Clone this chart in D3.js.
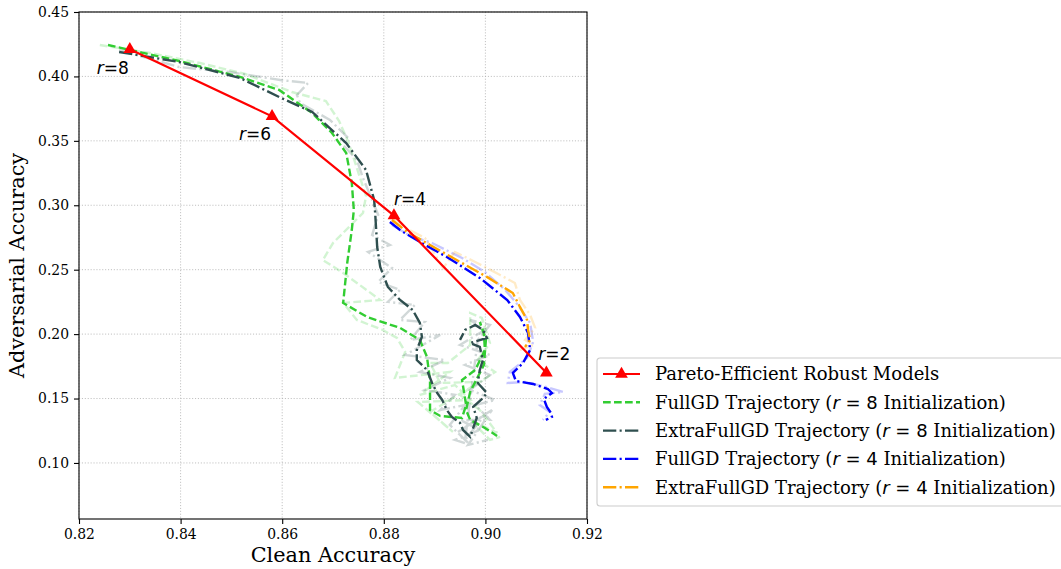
<!DOCTYPE html>
<html>
<head>
<meta charset="utf-8">
<script src="https://cdn.jsdelivr.net/npm/d3@7"></script>
<style>
  body { margin: 0; background: #fff; }
  svg { display: block; }
</style>
</head>
<body>
<svg id="chart" width="1061" height="569"></svg>
<script>
// pareto-efficient robust models
var paretoX = [0.830, 0.858, 0.882, 0.912];
var paretoY = [0.421, 0.369, 0.292, 0.170];
var paretoLabels = ['8', '6', '4', '2'];

// smoothed trajectories
var fullGD8 = [
  [0.8257,0.4244],[0.8397,0.4120],[0.8517,0.3996],[0.8594,0.3895],[0.8659,0.3716],
  [0.8698,0.3561],[0.8726,0.3406],[0.8737,0.3173],[0.8741,0.2963],[0.8737,0.2808],
  [0.8728,0.2552],[0.8720,0.2242],[0.8767,0.2133],[0.8832,0.2048],[0.8871,0.1955],
  [0.8885,0.1823],[0.8891,0.1644],[0.8891,0.1411],[0.8911,0.1365],[0.8954,0.1349],
  [0.8962,0.1450],[0.8954,0.1644],[0.8980,0.1722],[0.8999,0.1877],[0.8997,0.2009],
  [0.8989,0.2094],[0.9001,0.1955],[0.8997,0.1761],[0.8970,0.1551],[0.8962,0.1411],
  [0.8970,0.1334],[0.8999,0.1272],[0.9023,0.1210]
];
var extraGD8 = [
  [0.8279,0.4190],[0.8397,0.4112],[0.8517,0.3988],[0.8594,0.3840],[0.8659,0.3724],
  [0.8726,0.3483],[0.8765,0.3274],[0.8781,0.3041],[0.8783,0.2940],[0.8787,0.2676],
  [0.8793,0.2521],[0.8808,0.2366],[0.8832,0.2265],[0.8857,0.2187],[0.8871,0.2087],
  [0.8875,0.1978],[0.8865,0.1877],[0.8865,0.1799],[0.8885,0.1722],[0.8895,0.1621],
  [0.8905,0.1543],[0.8915,0.1489],[0.8924,0.1411],[0.8934,0.1357],[0.8950,0.1311],
  [0.8956,0.1256],[0.8970,0.1202],[0.8976,0.1272],[0.8983,0.1349],[0.8976,0.1435],
  [0.8995,0.1504],[0.9003,0.1543],[0.8985,0.1621],[0.8989,0.1722],[0.8995,0.1799],
  [0.8989,0.1900],[0.8970,0.1931],[0.9003,0.1970],[0.8995,0.2032],[0.8980,0.2071],
  [0.8960,0.2032],[0.8950,0.1955]
];
var fullGD4 = [
  [0.8812,0.2870],[0.8832,0.2808],[0.8871,0.2715],[0.8924,0.2599],[0.8989,0.2436],
  [0.9043,0.2265],[0.9068,0.2133],[0.9084,0.2009],[0.9088,0.1877],[0.9074,0.1776],
  [0.9054,0.1699],[0.9060,0.1636],[0.9094,0.1613],[0.9123,0.1574],[0.9131,0.1543],
  [0.9115,0.1497],[0.9121,0.1435],[0.9129,0.1388],[0.9131,0.1357],[0.9119,0.1334]
];
var extraGD4 = [
  [0.8816,0.2886],[0.8846,0.2793],[0.8891,0.2692],[0.8950,0.2560],[0.9003,0.2444],
  [0.9054,0.2319],[0.9068,0.2211],[0.9082,0.2110],[0.9084,0.2032],[0.9088,0.1955],
  [0.9078,0.1900]
];

// raw (unsmoothed) trajectories, drawn faint
var fullGD8Raw = [
  [0.8241,0.4244],[0.8340,0.4182],[0.8438,0.4104],[0.8527,0.4019],[0.8619,0.3879],
  [0.8686,0.3809],[0.8712,0.3654],[0.8731,0.3483],[0.8745,0.3313],[0.8765,0.3072],
  [0.8759,0.2940],[0.8700,0.2707],[0.8680,0.2575],[0.8720,0.2475],[0.8793,0.2265],
  [0.8720,0.2242],[0.8747,0.2110],[0.8798,0.2032],[0.8826,0.1970],[0.8842,0.1862],
  [0.8822,0.1660],[0.8930,0.1706],[0.8871,0.1528],[0.8940,0.1605],[0.8970,0.1489],
  [0.8867,0.1473],[0.8936,0.1241],[0.8891,0.1396],[0.8989,0.1629],[0.8911,0.1621],
  [0.8891,0.1776],[0.8926,0.1776],[0.8970,0.1916],[0.8970,0.2164],[0.8993,0.2125],
  [0.9009,0.1931],[0.8985,0.1799],[0.9019,0.1706],[0.8950,0.1528],[0.8989,0.1411],
  [0.9023,0.1233],[0.8970,0.1334],[0.9009,0.1179],[0.9029,0.1202]
];
var extraGD8Raw = [
  [0.8279,0.4205],[0.8397,0.4073],[0.8497,0.4034],[0.8596,0.3972],[0.8651,0.3949],
  [0.8629,0.3856],[0.8635,0.3794],[0.8694,0.3662],[0.8728,0.3530],[0.8720,0.3468],
  [0.8747,0.3352],[0.8759,0.3212],[0.8777,0.3041],[0.8789,0.2925],[0.8777,0.2769],
  [0.8812,0.2692],[0.8769,0.2638],[0.8816,0.2513],[0.8789,0.2405],[0.8832,0.2343],
  [0.8808,0.2250],[0.8861,0.2226],[0.8832,0.2110],[0.8881,0.2094],[0.8852,0.1955],
  [0.8911,0.1993],[0.8842,0.1838],[0.8920,0.1799],[0.8871,0.1706],[0.8930,0.1660],
  [0.8881,0.1567],[0.8940,0.1528],[0.8911,0.1411],[0.8960,0.1450],[0.8930,0.1295],
  [0.8970,0.1140],[0.8940,0.1179],[0.8989,0.1256],[0.8950,0.1334],[0.9009,0.1334],
  [0.8980,0.1450],[0.9019,0.1489],[0.8970,0.1567],[0.9009,0.1683],[0.8960,0.1761],
  [0.9009,0.1838],[0.8950,0.1916],[0.8999,0.2032],[0.8970,0.2110],[0.9009,0.2071],
  [0.8985,0.1955],[0.8960,0.1179],[0.8999,0.1373],[0.8946,0.1241],[0.9013,0.1411],
  [0.8966,0.1140],[0.9005,0.1179]
];
var fullGD4Raw = [
  [0.8816,0.2847],[0.8852,0.2762],[0.8895,0.2707],[0.8954,0.2591],[0.8999,0.2482],
  [0.9039,0.2343],[0.9064,0.2226],[0.9088,0.2087],[0.9094,0.1939],[0.9082,0.1815],
  [0.9048,0.1706],[0.9044,0.1621],[0.9078,0.1629],[0.9127,0.1582],[0.9153,0.1551],
  [0.9117,0.1536],[0.9107,0.1450],[0.9127,0.1396],[0.9113,0.1334]
];
var extraGD4Raw = [
  [0.8816,0.2901],[0.8842,0.2824],[0.8881,0.2746],[0.8917,0.2513],[0.8940,0.2638],
  [0.8980,0.2560],[0.9029,0.2459],[0.9058,0.2397],[0.9068,0.2265],[0.9088,0.2149],
  [0.9098,0.2048],[0.9078,0.1955],[0.9094,0.1916],[0.9068,0.1877]
];

var xTicks = [0.82, 0.84, 0.86, 0.88, 0.90, 0.92];
var yTicks = [0.10, 0.15, 0.20, 0.25, 0.30, 0.35, 0.40, 0.45];

var serif = "'DejaVu Serif', serif";
var sans = "'DejaVu Sans', sans-serif";
var DASHED = '7.7,3.3';
var DASHDOT = '13.3,3.3,2.1,3.3';

var series = [
  {raw: fullGD8Raw, main: fullGD8, color: '#32cd32', dash: DASHED, name: 'FullGD Trajectory (', r: '8'},
  {raw: extraGD8Raw, main: extraGD8, color: '#2f4f4f', dash: DASHDOT, name: 'ExtraFullGD Trajectory (', r: '8'},
  {raw: fullGD4Raw, main: fullGD4, color: '#0000ff', dash: DASHDOT, name: 'FullGD Trajectory (', r: '4'},
  {raw: extraGD4Raw, main: extraGD4, color: '#ffa500', dash: DASHDOT, name: 'ExtraFullGD Trajectory (', r: '4'}
];

// note: "top" is taken by window.top, so use plot* names
var plotL = 79, plotR = 587, plotT = 12, plotB = 519;
var svg = d3.select('#chart');

var x = d3.scaleLinear().domain([0.82, 0.92]).range([plotL, plotR]);
var y = d3.scaleLinear().domain([0.0565, 0.45]).range([plotB, plotT]);

// grid
var grid = svg.append('g').attr('stroke', '#b0b0b0').attr('stroke-width', 0.8).attr('stroke-dasharray', '1.1,1.8');
grid.selectAll('.gx').data(xTicks).enter().append('line')
    .attr('x1', function (d) { return x(d); }).attr('x2', function (d) { return x(d); })
    .attr('y1', plotT).attr('y2', plotB);
grid.selectAll('.gy').data(yTicks).enter().append('line')
    .attr('y1', function (d) { return y(d); }).attr('y2', function (d) { return y(d); })
    .attr('x1', plotL).attr('x2', plotR);

var line = d3.line().x(function (d) { return x(d[0]); }).y(function (d) { return y(d[1]); });

var plot = svg.append('g');

// faint raw paths first
series.forEach(function (s) {
    plot.append('path').attr('d', line(s.raw))
        .attr('fill', 'none').attr('stroke', s.color).attr('stroke-opacity', 0.22)
        .attr('stroke-width', 2.4).attr('stroke-dasharray', s.dash);
});
series.forEach(function (s) {
    plot.append('path').attr('d', line(s.main))
        .attr('fill', 'none').attr('stroke', s.color)
        .attr('stroke-width', 2.4).attr('stroke-dasharray', s.dash);
});

// pareto front
var pareto = paretoX.map(function (v, i) { return [v, paretoY[i]]; });
plot.append('path').attr('d', line(pareto))
    .attr('fill', 'none').attr('stroke', '#ff0000').attr('stroke-width', 2.2);
var tri = d3.symbol().type(d3.symbolTriangle).size(70);
plot.selectAll('.tri').data(pareto).enter().append('path')
    .attr('d', tri)
    .attr('transform', function (d) { return 'translate(' + x(d[0]) + ',' + y(d[1]) + ')'; })
    .attr('fill', '#ff0000');

// r=... annotations, offsets in px from the point
var labelOffsets = [[-33, 25], [-33, 24], [0, -11], [-8, -13]];
pareto.forEach(function (d, i) {
    var t = svg.append('text')
        .attr('x', x(d[0]) + labelOffsets[i][0]).attr('y', y(d[1]) + labelOffsets[i][1])
        .attr('font-family', sans).attr('font-size', 17).attr('fill', '#000');
    t.append('tspan').attr('font-style', 'italic').text('r');
    t.append('tspan').text('=' + paretoLabels[i]);
});

// spines
svg.append('rect').attr('x', plotL).attr('y', plotT).attr('width', plotR - plotL).attr('height', plotB - plotT)
    .attr('fill', 'none').attr('stroke', '#000').attr('stroke-width', 1.1);

// axes
var xAxis = svg.append('g').attr('transform', 'translate(0,' + plotB + ')')
    .call(d3.axisBottom(x).tickValues(xTicks).tickFormat(d3.format('.2f')).tickSize(5).tickPadding(5));
var yAxis = svg.append('g').attr('transform', 'translate(' + plotL + ',0)')
    .call(d3.axisLeft(y).tickValues(yTicks).tickFormat(d3.format('.2f')).tickSize(5).tickPadding(5));
[xAxis, yAxis].forEach(function (a) {
    a.select('.domain').remove();
    a.selectAll('text').attr('font-family', serif).attr('font-size', 13.9).attr('fill', '#000');
    a.selectAll('line').attr('stroke', '#000').attr('stroke-width', 1.1);
});

svg.append('text').attr('x', (plotL + plotR) / 2).attr('y', 562)
    .attr('text-anchor', 'middle').attr('font-family', serif).attr('font-size', 20.8)
    .text('Clean Accuracy');
svg.append('text').attr('transform', 'translate(24,' + ((plotT + plotB) / 2) + ') rotate(-90)')
    .attr('text-anchor', 'middle').attr('font-family', serif).attr('font-size', 20.8)
    .text('Adversarial Accuracy');

// legend
var lg = svg.append('g').attr('transform', 'translate(597,358)');
lg.append('rect').attr('x', 0).attr('y', 0).attr('width', 470).attr('height', 148).attr('rx', 3)
    .attr('fill', '#fff').attr('fill-opacity', 0.8).attr('stroke', '#cccccc').attr('stroke-width', 1.1);
var rowY = function (i) { return 16 + i * 28.3; };

lg.append('line').attr('x1', 6).attr('x2', 43).attr('y1', rowY(0)).attr('y2', rowY(0))
    .attr('stroke', '#ff0000').attr('stroke-width', 2.2);
lg.append('path').attr('d', tri).attr('transform', 'translate(24.5,' + rowY(0) + ')').attr('fill', '#ff0000');
lg.append('text').attr('x', 58).attr('y', rowY(0)).attr('dy', '0.35em')
    .attr('font-family', serif).attr('font-size', 18).text('Pareto-Efficient Robust Models');

series.forEach(function (s, i) {
    var yy = rowY(i + 1);
    lg.append('line').attr('x1', 6).attr('x2', 43).attr('y1', yy).attr('y2', yy)
        .attr('stroke', s.color).attr('stroke-width', 2.4).attr('stroke-dasharray', s.dash);
    var t = lg.append('text').attr('x', 58).attr('y', yy).attr('dy', '0.35em')
        .attr('font-family', serif).attr('font-size', 18);
    t.append('tspan').text(s.name);
    t.append('tspan').attr('font-family', sans).attr('font-style', 'italic').text('r');
    t.append('tspan').attr('font-family', sans).text(' = ' + s.r);
    t.append('tspan').text(' Initialization)');
});
</script>
</body>
</html>
